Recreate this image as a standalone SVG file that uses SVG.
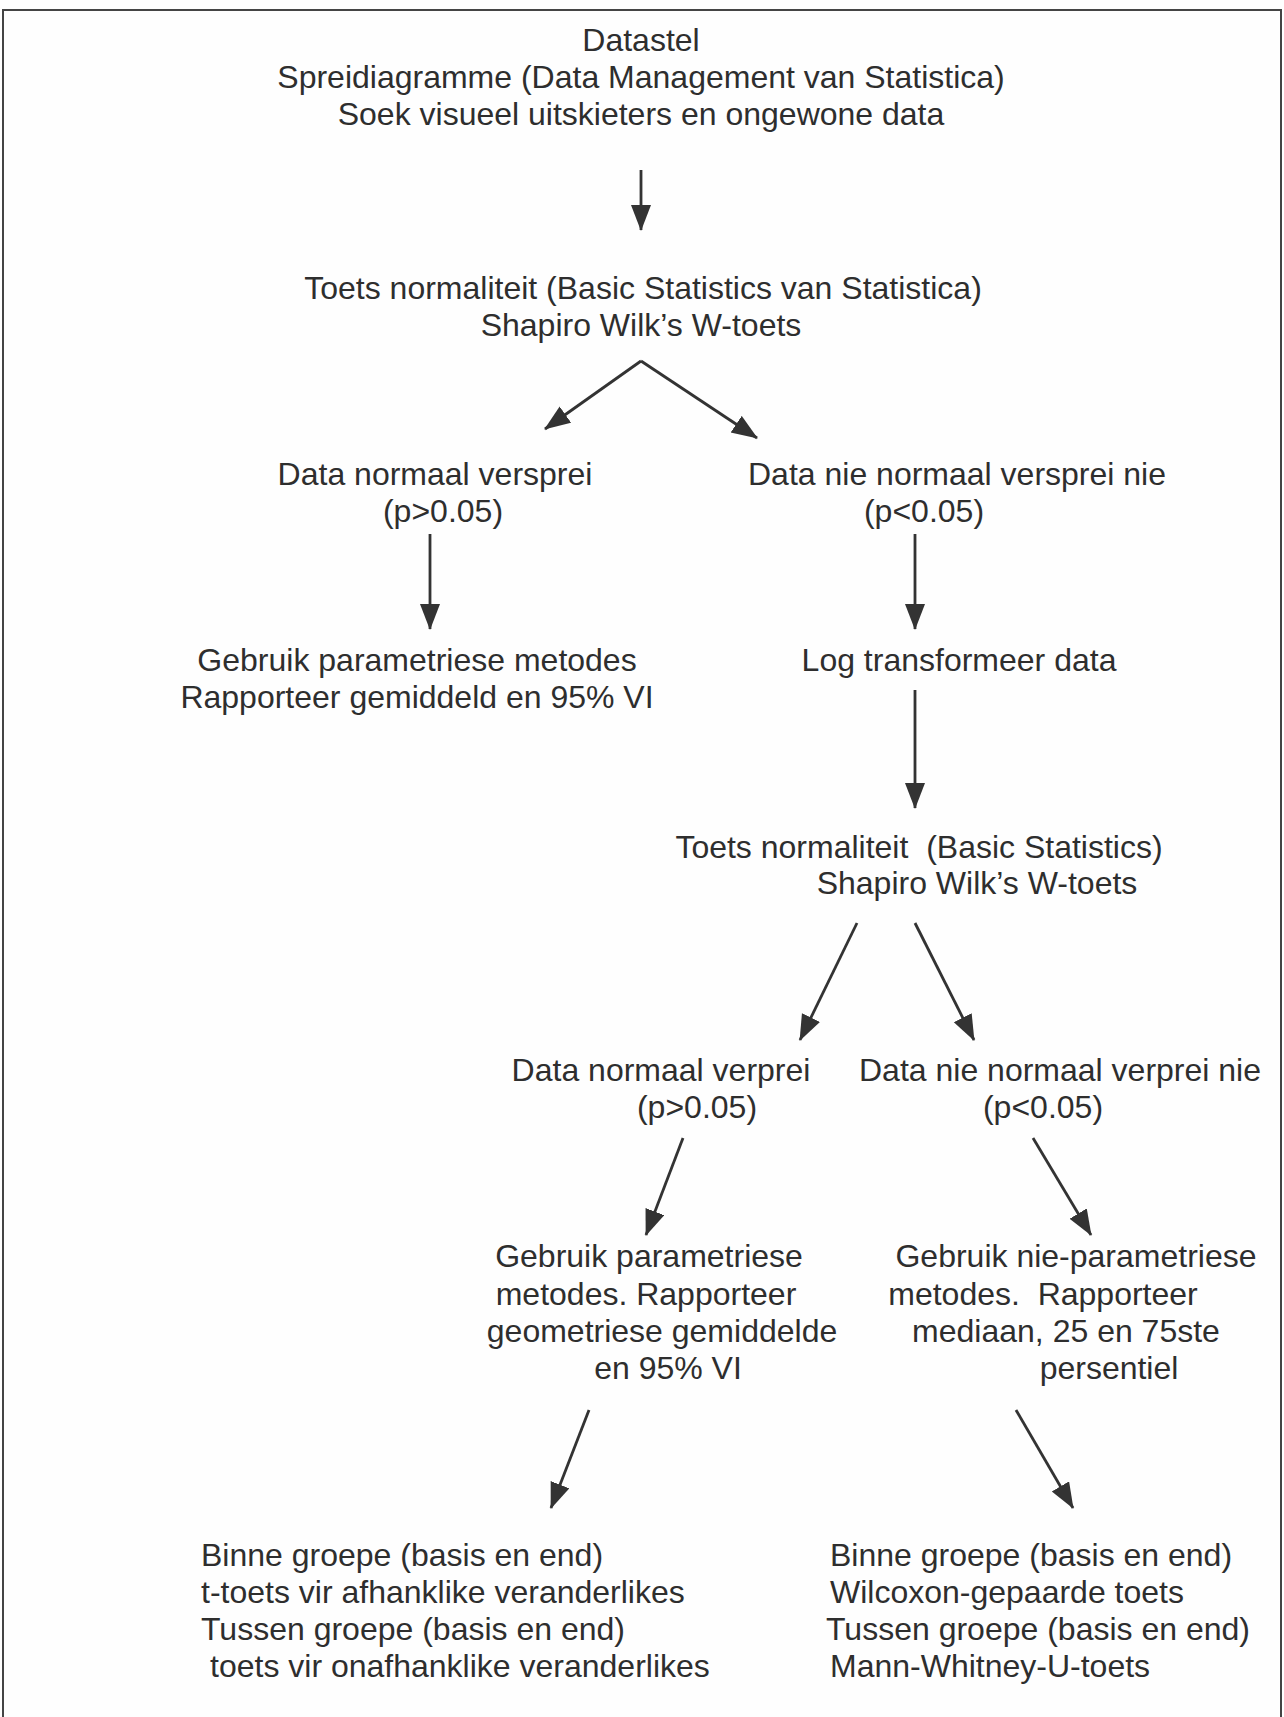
<svg xmlns="http://www.w3.org/2000/svg" width="1284" height="1717" viewBox="0 0 1284 1717">
<style>
text{font-family:"Liberation Sans",Arial,sans-serif;font-size:32px;fill:#2e2e2e}
.c{text-anchor:middle}
.e{stroke:#333;stroke-width:2.8;fill:none;marker-end:url(#ah)}
</style>
<defs>
<marker id="ah" markerUnits="userSpaceOnUse" markerWidth="28" markerHeight="22" refX="25" refY="10" orient="auto">
<path d="M0,0 L26,10 L0,20 z" fill="#333"/>
</marker>
</defs>
<rect width="1284" height="1717" fill="#fefefe"/>
<path d="M3,1717 V10 H1281 V1717" fill="none" stroke="#444" stroke-width="2"/>
<g id="n1" class="c">
<text x="641" y="51">Datastel</text>
<text x="641" y="88">Spreidiagramme (Data Management van Statistica)</text>
<text x="641" y="125">Soek visueel uitskieters en ongewone data</text>
</g>
<g id="n2" class="c">
<text x="643" y="299">Toets normaliteit (Basic Statistics van Statistica)</text>
<text x="641" y="336">Shapiro Wilk’s W-toets</text>
</g>
<g id="n3" class="c">
<text x="435" y="485">Data normaal versprei</text>
<text x="443" y="522">(p&gt;0.05)</text>
</g>
<g id="n4" class="c">
<text x="957" y="485">Data nie normaal versprei nie</text>
<text x="924" y="522">(p&lt;0.05)</text>
</g>
<g id="n5" class="c">
<text x="417" y="671">Gebruik parametriese metodes</text>
<text x="417" y="708">Rapporteer gemiddeld en 95% VI</text>
</g>
<g id="n6" class="c">
<text x="959" y="671">Log transformeer data</text>
</g>
<g id="n7" class="c">
<text x="919" y="858" xml:space="preserve">Toets normaliteit  (Basic Statistics)</text>
<text x="977" y="894">Shapiro Wilk’s W-toets</text>
</g>
<g id="n8" class="c">
<text x="661" y="1081">Data normaal verprei</text>
<text x="697" y="1118">(p&gt;0.05)</text>
</g>
<g id="n9" class="c">
<text x="1060" y="1081">Data nie normaal verprei nie</text>
<text x="1043" y="1118">(p&lt;0.05)</text>
</g>
<g id="n10" class="c">
<text x="649" y="1267">Gebruik parametriese</text>
<text x="646" y="1305">metodes. Rapporteer</text>
<text x="662" y="1342">geometriese gemiddelde</text>
<text x="668" y="1379">en 95% VI</text>
</g>
<g id="n11" class="c">
<text x="1076" y="1267">Gebruik nie-parametriese</text>
<text x="1043" y="1305" xml:space="preserve">metodes.  Rapporteer</text>
<text x="1066" y="1342">mediaan, 25 en 75ste</text>
<text x="1109" y="1379">persentiel</text>
</g>
<g id="n12">
<text x="201" y="1566">Binne groepe (basis en end)</text>
<text x="201" y="1603">t-toets vir afhanklike veranderlikes</text>
<text x="201" y="1640">Tussen groepe (basis en end)</text>
<text x="210" y="1677">toets vir onafhanklike veranderlikes</text>
</g>
<g id="n13">
<text x="830" y="1566">Binne groepe (basis en end)</text>
<text x="830" y="1603">Wilcoxon-gepaarde toets</text>
<text x="826" y="1640">Tussen groepe (basis en end)</text>
<text x="830" y="1677">Mann-Whitney-U-toets</text>
</g>
<g id="connectors">
<line class="e" x1="641" y1="170" x2="641" y2="230"/>
<line class="e" x1="641" y1="361" x2="545" y2="429"/>
<line class="e" x1="641" y1="361" x2="757" y2="438"/>
<line class="e" x1="430" y1="534" x2="430" y2="629"/>
<line class="e" x1="915" y1="534" x2="915" y2="629"/>
<line class="e" x1="915" y1="690" x2="915" y2="808"/>
<line class="e" x1="857" y1="923" x2="800" y2="1040"/>
<line class="e" x1="915" y1="923" x2="974" y2="1040"/>
<line class="e" x1="683" y1="1138" x2="646" y2="1235"/>
<line class="e" x1="1033" y1="1138" x2="1091" y2="1235"/>
<line class="e" x1="589" y1="1410" x2="551" y2="1508"/>
<line class="e" x1="1016" y1="1410" x2="1073" y2="1508"/>
</g>
</svg>
